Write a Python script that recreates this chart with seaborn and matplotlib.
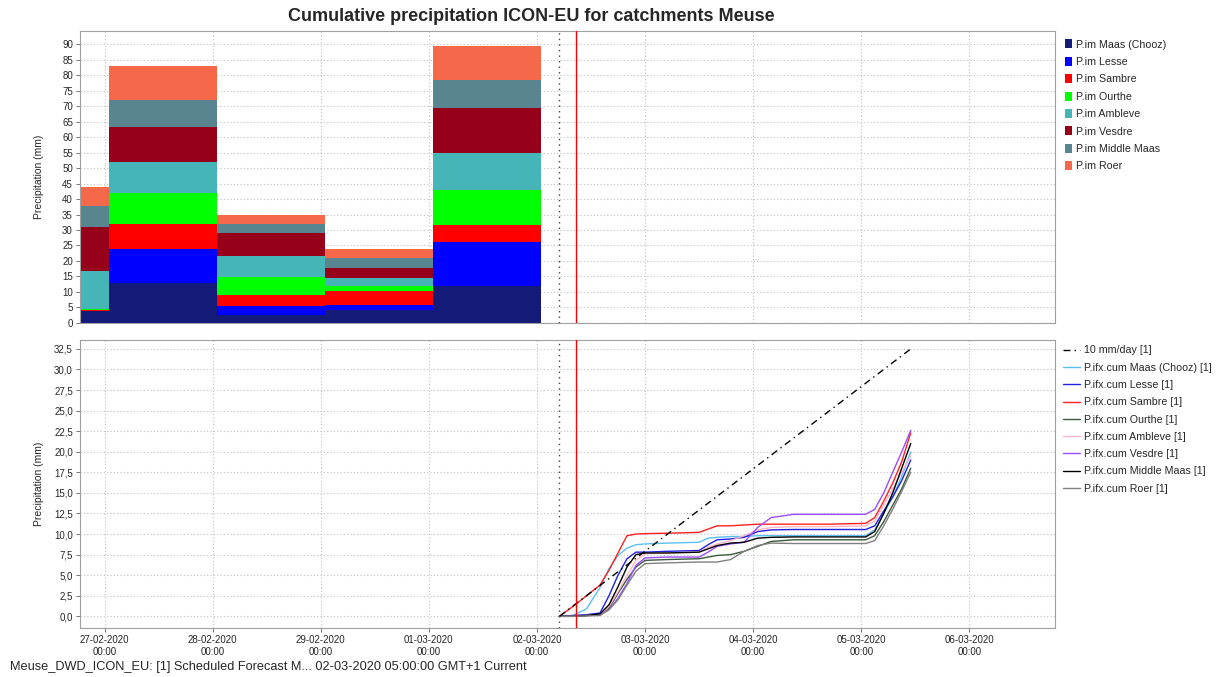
import matplotlib.dates as mdates
import matplotlib.pyplot as plt
import matplotlib.ticker as mticker
import pandas as pd
import seaborn as sns
from matplotlib.lines import Line2D
from matplotlib.patches import Patch

catchments = ["Maas (Chooz)", "Lesse", "Sambre", "Ourthe", "Ambleve",
              "Vesdre", "Middle Maas", "Roer"]

# daily observed precipitation (mm), bars start at 01:00 local time
bar_starts = ["2020-02-26 01:00", "2020-02-27 01:00", "2020-02-28 01:00",
              "2020-02-29 01:00", "2020-03-01 01:00"]
im_maas = [3.7, 12.9, 2.7, 4.1, 12.0]
im_lesse = [0.2, 10.9, 2.9, 1.7, 14.2]
im_sambre = [0.4, 8.2, 3.4, 4.5, 5.3]
im_ourthe = [0.2, 9.8, 5.8, 1.7, 11.4]
im_ambleve = [12.3, 10.0, 6.8, 2.5, 12.1]
im_vesdre = [14.3, 11.4, 7.4, 3.2, 14.5]
im_middle = [6.7, 8.9, 2.9, 3.2, 9.0]
im_roer = [6.0, 10.9, 2.9, 3.1, 11.0]
bar_colors = ["#141a78", "#0000ff", "#ff0000", "#00ff00", "#45b5b8",
              "#960018", "#588590", "#f5694a"]

# cumulative forecast (mm), hours after forecast time 02-03-2020 05:00
fc_start = "2020-03-02 05:00"
fc_hours = [0, 3, 6, 9, 11, 13, 15, 17, 19, 24, 31, 33, 35, 38, 41, 44, 47,
            52, 60, 68, 70, 72, 74, 76, 78]
fc_maas = [0, 0.1, 0.9, 3.5, 5.8, 7.4, 8.3, 8.7, 8.8, 8.9, 9.0, 9.5, 9.6,
           9.7, 9.7, 9.8, 9.8, 9.8, 9.8, 9.8, 10.5, 12.5, 14.5, 17.0, 20.0]
fc_lesse = [0, 0.1, 0.2, 0.4, 2.5, 5.0, 7.0, 7.8, 7.8, 7.9, 8.0, 8.7, 9.3,
            9.4, 9.6, 10.3, 10.5, 10.55, 10.55, 10.55, 11.0, 12.8, 14.5,
            16.5, 19.0]
fc_sambre = [0, 1.2, 2.5, 3.8, 5.6, 7.7, 9.8, 10.0, 10.05, 10.1, 10.2, 10.6,
             11.0, 11.0, 11.1, 11.2, 11.2, 11.2, 11.2, 11.3, 12.0, 14.0,
             16.2, 18.8, 22.3]
fc_ourthe = [0, 0, 0.1, 0.2, 1.0, 2.8, 4.5, 6.0, 6.8, 6.9, 7.0, 7.2, 7.4,
             7.5, 7.9, 8.5, 9.1, 9.3, 9.3, 9.3, 9.8, 11.5, 13.5, 15.5, 18.0]
fc_ambleve = [0, 0, 0.1, 0.2, 1.2, 3.0, 5.0, 6.8, 7.6, 7.7, 7.8, 8.4, 8.8,
              9.2, 9.8, 10.5, 10.8, 10.9, 10.9, 11.0, 11.6, 13.5, 15.5,
              17.5, 19.5]
fc_vesdre = [0, 0, 0.1, 0.2, 0.8, 2.2, 4.0, 6.2, 7.1, 7.2, 7.2, 7.8, 8.5,
             8.8, 9.0, 10.8, 12.0, 12.4, 12.4, 12.4, 13.0, 15.0, 17.5, 20.0,
             22.6]
fc_middle = [0, 0, 0.1, 0.3, 1.4, 3.6, 6.0, 7.5, 7.7, 7.7, 7.8, 8.2, 8.6,
             8.9, 9.0, 9.5, 9.6, 9.65, 9.65, 9.65, 10.3, 12.5, 15.0, 18.0,
             21.0]
fc_roer = [0, 0, 0.05, 0.1, 0.8, 2.0, 3.8, 5.5, 6.4, 6.5, 6.6, 6.6, 6.6,
           6.9, 7.9, 8.6, 8.9, 8.85, 8.85, 8.85, 9.2, 11.0, 13.0, 15.2, 17.5]
line_colors = ["#5bc0f0", "#2020e0", "#ff2020", "#3c5a3c", "#ffb6c8",
               "#9b4dff", "#000000", "#808080"]

ref_hours = [0, 78]
ref_mm = [0, 32.5]

now_time = "2020-03-02 08:40"

sns.set_theme(style="whitegrid")
plt.rcParams["font.family"] = ["Liberation Sans", "DejaVu Sans"]

fig = plt.figure(figsize=(12.28, 6.77), dpi=100)
ax1 = fig.add_axes([0.065, 0.523, 0.794, 0.431])
ax2 = fig.add_axes([0.065, 0.072, 0.794, 0.426], sharex=ax1)

# stacked bars
starts = pd.to_datetime(bar_starts)
bottom = [0.0] * len(starts)
bar_series = [im_maas, im_lesse, im_sambre, im_ourthe, im_ambleve,
              im_vesdre, im_middle, im_roer]
for vals, color in zip(bar_series, bar_colors):
    ax1.bar(starts, vals, width=1.0, bottom=bottom, align="edge",
            color=color, linewidth=0, zorder=2)
    bottom = [b + v for b, v in zip(bottom, vals)]

# forecast lines
t0 = pd.Timestamp(fc_start)
fc_series = [fc_maas, fc_lesse, fc_sambre, fc_ourthe, fc_ambleve, fc_vesdre,
             fc_middle, fc_roer]
rows = []
for name, vals in zip(catchments, fc_series):
    for h, v in zip(fc_hours, vals):
        rows.append({"time": t0 + pd.Timedelta(hours=h), "mm": v,
                     "series": name})
df = pd.DataFrame(rows)
sns.lineplot(data=df, x="time", y="mm", hue="series", hue_order=catchments,
             palette=dict(zip(catchments, line_colors)), estimator=None,
             linewidth=1, legend=False, ax=ax2, zorder=3)

ref_times = [t0 + pd.Timedelta(hours=h) for h in ref_hours]
ax2.plot(ref_times, ref_mm, color="black", linewidth=1,
         dashes=(5, 3, 1, 3), zorder=3)

for ax in (ax1, ax2):
    ax.axvline(t0, color="#404040", linestyle=(0, (1, 3)), linewidth=1,
               zorder=4)
    ax.axvline(pd.Timestamp(now_time), color="#ff0000", linewidth=1,
               zorder=4)
    ax.grid(True, color="#c0c0c0", linestyle=(0, (1, 2)), linewidth=0.8)
    ax.set_axisbelow(True)
    for sp in ax.spines.values():
        sp.set_color("#a0a0a0")
        sp.set_linewidth(0.8)
    ax.tick_params(labelsize=7, length=3, width=0.6, color="#606060",
                   left=True, bottom=True, pad=2)
    ax.set_ylabel("Precipitation (mm)", fontsize=7.5)
    ax.yaxis.set_label_coords(-0.037, 0.5)

ax2.set_xlim(pd.Timestamp("2020-02-26 18:30"), pd.Timestamp("2020-03-06 19:00"))
ax2.xaxis.set_major_locator(mdates.DayLocator())
ax2.xaxis.set_major_formatter(mdates.DateFormatter("%d-%m-%Y\n%H:%M"))
ax1.tick_params(labelbottom=False, bottom=False)
ax2.set_xlabel("")

ax1.set_ylim(0, 94.2)
ax1.yaxis.set_major_locator(mticker.MultipleLocator(5))
ax2.set_ylim(-1.45, 33.6)
ax2.yaxis.set_major_locator(mticker.MultipleLocator(2.5))
ax2.yaxis.set_major_formatter(
    mticker.FuncFormatter(lambda v, p: f"{v:.1f}".replace(".", ",")))
for lab in ax2.get_xticklabels():
    lab.set_ha("center")

# legends
bar_handles = [Patch(facecolor=c, edgecolor="none") for c in bar_colors]
fig.legend(bar_handles, ["P.im " + c for c in catchments],
           loc="upper left", bbox_to_anchor=(0.864, 0.948), frameon=False,
           fontsize=7.7, handlelength=0.6, handleheight=0.9,
           handletextpad=0.4, labelspacing=0.68, borderaxespad=0)

line_handles = [Line2D([], [], color="black", linewidth=1, dashes=(5, 3, 1, 3))]
line_handles += [Line2D([], [], color=c, linewidth=1) for c in line_colors]
line_labels = ["10 mm/day [1]"] + ["P.ifx.cum " + c + " [1]" for c in catchments]
fig.legend(line_handles, line_labels, loc="upper left",
           bbox_to_anchor=(0.862, 0.496), frameon=False, fontsize=7.7,
           handlelength=1.6, handletextpad=0.4, labelspacing=0.68,
           borderaxespad=0)

fig.text(0.433, 0.976, "Cumulative precipitation ICON-EU for catchments Meuse",
         ha="center", va="center", fontsize=13, fontweight="bold",
         family=["Liberation Sans Narrow", "Liberation Sans", "DejaVu Sans"])
fig.text(0.008, 0.015,
         "Meuse_DWD_ICON_EU: [1] Scheduled Forecast M... 02-03-2020 05:00:00 GMT+1 Current",
         ha="left", va="center", fontsize=9.2)

fig.savefig("out.png", dpi=100)
